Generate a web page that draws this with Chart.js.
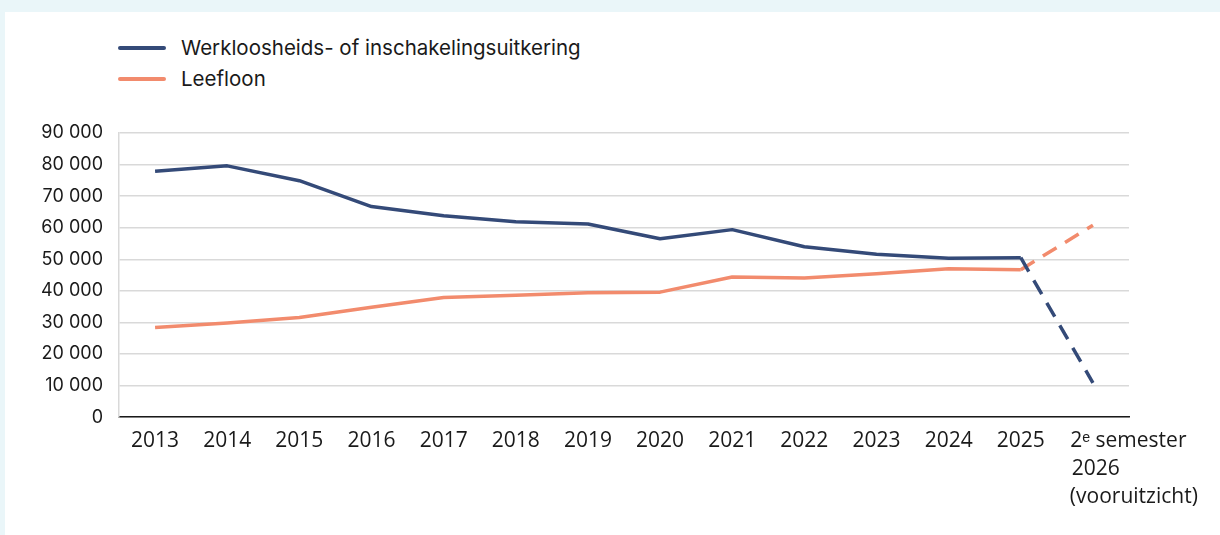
<!DOCTYPE html>
<html>
<head>
<meta charset="utf-8">
<script src="https://cdn.jsdelivr.net/npm/chart.js@4.4.1/dist/chart.umd.min.js"></script>
<style>
  html, body { margin: 0; padding: 0; }
  body { width: 1220px; height: 535px; background: #eaf6f9; position: relative; overflow: hidden; }
  #panel { position: absolute; left: 5px; top: 12px; width: 1215px; height: 523px; background: #fff; }
  #legend { position: absolute; left: 113px; top: 20px; font-family: Inter, sans-serif; font-size: 20.5px; color: #1a1a1a; }
  .item { display: flex; align-items: center; height: 31px; }
  .swatch { width: 48px; height: 4px; border-radius: 2px; margin-right: 15px; }
  #wrap { position: absolute; left: 0; top: 88px; width: 1215px; height: 435px; }
</style>
</head>
<body>
<div id="panel">
  <div id="legend"></div>
  <div id="wrap"><canvas id="lineChart"></canvas></div>
</div>
<script>
var labels = ['2013', '2014', '2015', '2016', '2017', '2018', '2019', '2020', '2021', '2022', '2023', '2024', '2025',
    ['\u00a0'.repeat(13) + '2\u1d49 semester', '\u00a0' + '2026', '\u00a0'.repeat(15) + '(vooruitzicht)']];

var werkloosheid = [77900, 79600, 74900, 66700, 63800, 61900, 61200, 56500, 59400, 54000, 51600, 50300, 50500, 10900];
var leefloon = [28400, 29800, 31600, 34800, 37900, 38600, 39400, 39600, 44400, 44100, 45400, 47000, 46700, 60800];

var yTicksMax = 90000;
var yTicksStep = 10000;

const Color = {
    Blue: '#344a78',
    Orange: '#f28b6d',
};

function getDataSetEntry(label, data, color) {
    return {
        label,
        data,
        fill: false,
        tension: 0,
        borderColor: color,
        backgroundColor: color,
        borderWidth: 3.5,
        borderCapStyle: 'butt',
        borderJoinStyle: 'round',
        pointRadius: 0,
        pointHoverRadius: 0,
        segment: {
            // last segment is a forecast
            borderDash: (ctx) => (ctx.p1DataIndex === data.length - 1 ? [16, 10] : undefined),
        },
    };
}

function formatThousands(val) {
    return String(val).replace(/\B(?=(\d{3})+(?!\d))/g, ' ');
}

function renderLegend(chart) {
    var legend = document.getElementById('legend');
    chart.data.datasets.forEach((ds) => {
        var item = document.createElement('div');
        item.className = 'item';
        var sw = document.createElement('span');
        sw.className = 'swatch';
        sw.style.background = ds.borderColor;
        var txt = document.createElement('span');
        txt.textContent = ds.label;
        item.appendChild(sw);
        item.appendChild(txt);
        legend.appendChild(item);
    });
}

var ctx = document.getElementById('lineChart').getContext('2d');
var chart = new Chart(ctx, {
    type: 'line',
    data: {
        labels: labels,
        datasets: [
            getDataSetEntry('Werkloosheids- of inschakelingsuitkering', werkloosheid, Color.Blue),
            getDataSetEntry('Leefloon', leefloon, Color.Orange),
        ],
    },
    options: {
        responsive: true,
        maintainAspectRatio: false,
        animation: false,
        layout: { padding: { top: 33, right: 91, bottom: 14, left: 0 } },
        plugins: {
            legend: { display: false },
            tooltip: { enabled: false },
        },
        scales: {
            x: {
                offset: true,
                grid: { display: false, drawTicks: false },
                border: { display: true, color: '#1a1a1a', width: 1.5 },
                ticks: {
                    autoSkip: false,
                    maxRotation: 0,
                    padding: 10,
                    color: '#1a1a1a',
                    font: { family: "'Open Sans', sans-serif", size: 21, lineHeight: 1.33 },
                },
            },
            y: {
                min: 0,
                max: yTicksMax,
                afterFit: (scale) => { scale.width = 114; },
                grid: { color: '#d9d9d9', lineWidth: 1.5, drawTicks: false },
                border: { display: true, color: '#d9d9d9', width: 1.5 },
                ticks: {
                    stepSize: yTicksStep,
                    padding: 16,
                    color: '#1a1a1a',
                    font: { family: 'Inter, sans-serif', size: 18 },
                    callback: (v) => formatThousands(v),
                },
            },
        },
    },
});

renderLegend(chart);
</script>
</body>
</html>
